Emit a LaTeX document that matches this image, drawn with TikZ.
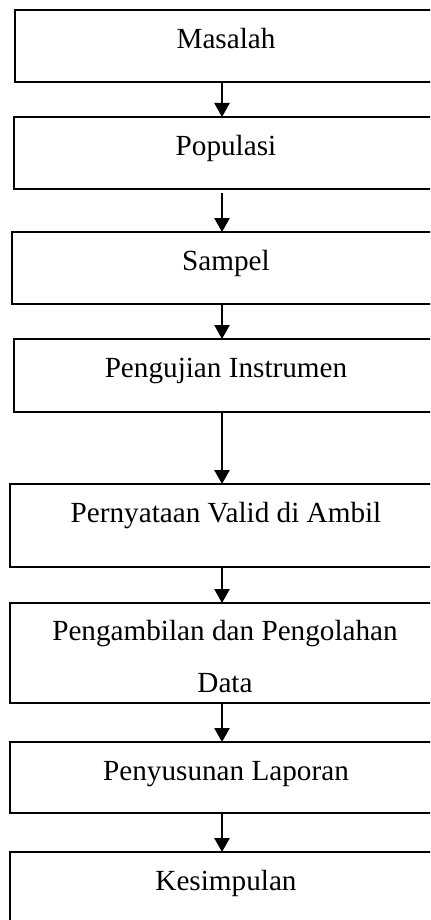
\documentclass[tikz,border=0pt]{standalone}
\usepackage{fontspec}
\setmainfont{Liberation Serif}
\usetikzlibrary{arrows.meta}

\tikzset{
  stagebox/.style={draw=black, line width=1.2pt, rectangle, inner sep=0pt,
                   outer sep=0pt, anchor=north west, fill=white},
  stagetext/.style={anchor=base, inner sep=0pt, align=center,
                    font=\fontsize{14.6}{26}\selectfont},
  flow/.style={draw=black, line width=1pt,
               -{Triangle[width=7.6pt,length=7pt]}},
}

\begin{document}
\begin{tikzpicture}[x=0.5pt,y=-0.5pt]
  \useasboundingbox (0,0) rectangle (430,920);
  \clip (0,0) rectangle (430,920);
  \fill[white] (0,0) rectangle (430,920);

  % boxes run past the right and bottom edge of the page
  \node[stagebox, minimum width=211.5pt, minimum height=36pt]   (b1) at (15,10)  {};
  \node[stagebox, minimum width=212pt,   minimum height=36pt]   (b2) at (14,117) {};
  \node[stagebox, minimum width=213pt,   minimum height=36pt]   (b3) at (12,232) {};
  \node[stagebox, minimum width=212pt,   minimum height=36.5pt] (b4) at (14,339) {};
  \node[stagebox, minimum width=214pt,   minimum height=41.5pt] (b5) at (10,484) {};
  \node[stagebox, minimum width=214pt,   minimum height=50pt]   (b6) at (10,603) {};
  \node[stagebox, minimum width=214pt,   minimum height=35.5pt] (b7) at (10,742) {};
  \node[stagebox, minimum width=214pt,   minimum height=35.5pt] (b8) at (10,852) {};

  % labels, set on a baseline near the top of each box
  % (a two-line label sits on the baseline of its last line)
  \node[stagetext] (t1) at (226,48.5)  {Masalah};
  \node[stagetext] (t2) at (226,155.5) {Populasi};
  \node[stagetext] (t3) at (226,270.5) {Sampel};
  \node[stagetext] (t4) at (226,377.5) {Pengujian Instrumen};
  \node[stagetext] (t5) at (226,522.5) {Pernyataan Valid di Ambil};
  \node[stagetext] (t6) at (225,692)   {Pengambilan dan Pengolahan\\Data};
  \node[stagetext] (t7) at (226,780.5) {Penyusunan Laporan};
  \node[stagetext] (t8) at (226,890.5) {Kesimpulan};

  % vertical connectors
  \coordinate (ax) at (222,0);
  \draw[flow] (b1.south -| ax) -- (b2.north -| ax);
  \draw[flow] ([yshift=-2pt]b2.south -| ax) -- (b3.north -| ax);
  \draw[flow] (b3.south -| ax) -- (b4.north -| ax);
  \draw[flow] (b4.south -| ax) -- (b5.north -| ax);
  \draw[flow] (b5.south -| ax) -- (b6.north -| ax);
  \draw[flow] (b6.south -| ax) -- (b7.north -| ax);
  \draw[flow] (b7.south -| ax) -- (b8.north -| ax);
\end{tikzpicture}
\end{document}
